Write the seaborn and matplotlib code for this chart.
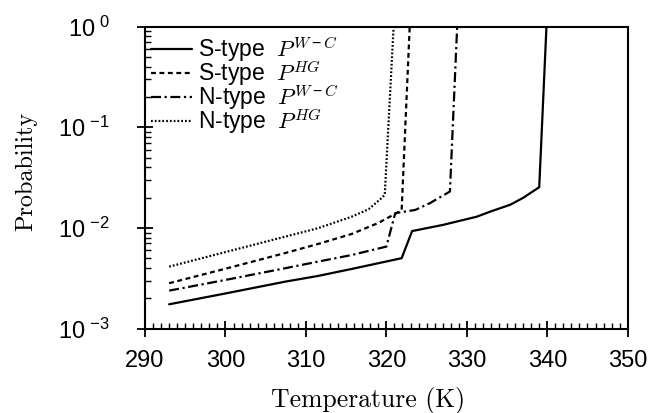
import math
import matplotlib
matplotlib.use("Agg")
import matplotlib.pyplot as plt
import matplotlib.ticker as mticker
import seaborn as sns

# (temperature in K, probability)
temp_s_wc = [293, 300, 307.4, 311.5, 315.7, 321.9, 323.2, 327.0, 329.0, 331.2, 333.0, 335.4, 337.0, 339.0, 339.9]
prob_s_wc = [1.74e-3, 2.23e-3, 2.92e-3, 3.33e-3, 3.91e-3, 5.0e-3, 9.3e-3, 1.07e-2, 1.17e-2, 1.29e-2, 1.46e-2, 1.70e-2, 1.99e-2, 2.54e-2, 1.0]

temp_s_hg = [293, 300, 307.4, 311.5, 315.7, 319.0, 321.1, 321.9, 322.9]
prob_s_hg = [2.82e-3, 3.93e-3, 5.62e-3, 6.92e-3, 8.71e-3, 1.12e-2, 1.38e-2, 1.51e-2, 1.0]

temp_n_wc = [293, 300, 307.4, 311.5, 315.7, 320.0, 321.1, 323.6, 325.4, 327.9, 328.8]
prob_n_wc = [2.38e-3, 3.04e-3, 3.97e-3, 4.62e-3, 5.38e-3, 6.52e-3, 1.40e-2, 1.51e-2, 1.76e-2, 2.30e-2, 1.0]

temp_n_hg = [293, 300, 307.4, 311.5, 315.7, 317.8, 319.4, 319.8, 320.9]
prob_n_hg = [4.12e-3, 5.75e-3, 8.18e-3, 9.93e-3, 1.294e-2, 1.535e-2, 1.977e-2, 2.13e-2, 1.0]

labels = [r"S-type $\;P^{W-C}$", r"S-type $\;P^{HG}$", r"N-type $\;P^{W-C}$", r"N-type $\;P^{HG}$"]
x_ticks = [290, 300, 310, 320, 330, 340, 350]
y_ticks = [1e-3, 1e-2, 1e-1, 1e0]

sns.set_style("ticks")
plt.rcParams["font.family"] = ["Liberation Sans", "DejaVu Sans"]
plt.rcParams["mathtext.fontset"] = "custom"
plt.rcParams["mathtext.rm"] = "Liberation Sans"
plt.rcParams["mathtext.it"] = "cmmi10"
plt.rcParams["mathtext.fallback"] = "cm"
for key in ["text.color", "axes.labelcolor", "xtick.color", "ytick.color", "axes.edgecolor"]:
    plt.rcParams[key] = "black"

fig = plt.figure(figsize=(6.48, 4.13), dpi=100)
ax = fig.add_axes([0.2238, 0.2046, 0.7449, 0.7307])

series = [
    (temp_s_wc, prob_s_wc, dict(linestyle="-")),
    (temp_s_hg, prob_s_hg, dict(dashes=(2.2, 1.6))),
    (temp_n_wc, prob_n_wc, dict(dashes=(4.5, 1.6, 1.0, 1.6))),
    (temp_n_hg, prob_n_hg, dict(dashes=(0.8, 0.9))),
]
for (t, p, style), lab in zip(series, labels):
    sns.lineplot(x=t, y=p, ax=ax, color="black", linewidth=1.6, label=lab,
                 sort=False, estimator=None, **style)

ax.set_yscale("log")
ax.set_xlim(290, 350)
ax.set_ylim(1e-3, 1)
ax.set_xticks(x_ticks)
ax.xaxis.set_minor_locator(mticker.MultipleLocator(1))
ax.yaxis.set_major_locator(mticker.FixedLocator(y_ticks))
ax.yaxis.set_minor_locator(mticker.LogLocator(base=10, subs=range(2, 10)))
ax.yaxis.set_minor_formatter(mticker.NullFormatter())
ax.yaxis.set_major_formatter(mticker.FuncFormatter(
    lambda v, pos: r"$\mathrm{10}^{\;\mathrm{%d}}$" % round(math.log10(v))))

ax.tick_params(which="major", direction="inout", length=11, width=1.3,
               labelsize=17, top=False, right=False)
ax.tick_params(axis="x", which="major", pad=10)
ax.tick_params(axis="y", which="major", pad=20)
ax.tick_params(which="minor", direction="in", length=4, width=1.0, top=False, right=False)
for s in ax.spines.values():
    s.set_linewidth(1.5)

ax.set_xlabel("Temperature (K)", fontfamily="cmr10", fontsize=18.5)
ax.set_ylabel("Probability", fontfamily="cmr10", fontsize=17.5)
ax.xaxis.set_label_coords(0.462, -0.195)
ax.yaxis.set_label_coords(-0.224, 0.52)

ax.legend(loc="upper left", bbox_to_anchor=(0.012, 0.972), frameon=False, fontsize=16.5,
          handlelength=1.8, handletextpad=0.25, labelspacing=-0.22, borderpad=0,
          borderaxespad=0)

fig.savefig("out.png", dpi=100)
